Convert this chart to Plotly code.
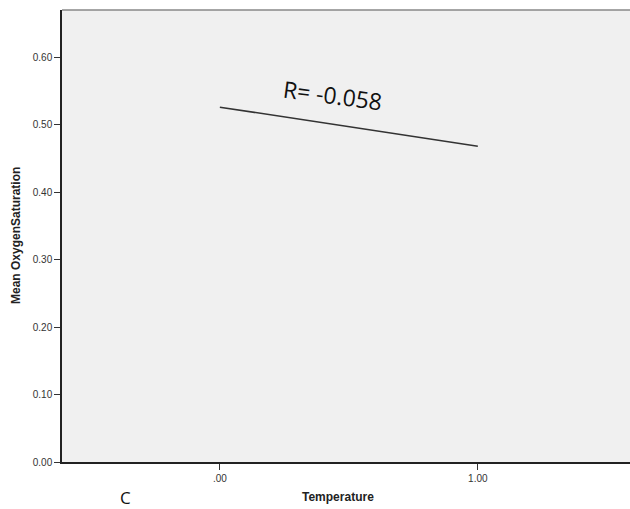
import plotly.graph_objects as go

temperature = [0.0, 1.0]
fit_oxygen = [0.526, 0.468]
x_tick_vals = [0.0, 1.0]
x_tick_text = [".00", "1.00"]
y_tick_vals = [0.0, 0.1, 0.2, 0.3, 0.4, 0.5, 0.6]
y_tick_text = ["0.00", "0.10", "0.20", "0.30", "0.40", "0.50", "0.60"]
r_label = "R= -0.058"
panel_label = "C"

fig = go.Figure()
fig.add_trace(go.Scatter(x=temperature, y=fit_oxygen, mode="lines",
                         line=dict(color="#333333", width=1.5), showlegend=False,
                         hoverinfo="skip"))

fig.update_layout(
    width=630, height=509,
    margin=dict(l=62, r=0, t=10, b=47),
    paper_bgcolor="white", plot_bgcolor="#F0F0F0",
    font=dict(family="Liberation Sans, Arial, sans-serif", color="#222222"),
    xaxis=dict(range=[-0.612, 1.59], tickvals=x_tick_vals, ticktext=x_tick_text,
               showgrid=False, zeroline=False, showline=True, linecolor="#222222",
               linewidth=1.5, ticks="outside", ticklen=6, tickcolor="#333333",
               tickfont=dict(size=10, color="#333333")),
    yaxis=dict(range=[0, 0.67], tickvals=y_tick_vals, ticktext=y_tick_text,
               showgrid=False, zeroline=False, showline=True, linecolor="#222222",
               linewidth=1.5, ticks="outside", ticklen=6, tickcolor="#333333",
               tickfont=dict(size=10, color="#333333")),
    shapes=[dict(type="line", xref="paper", yref="paper", x0=0, x1=1, y0=1, y1=1,
                 line=dict(color="#888888", width=1.5))],
    annotations=[
        dict(text="<b>Mean OxygenSaturation</b>", xref="paper", yref="paper",
             x=-(62 - 16) / 568, y=0.5, xanchor="center", yanchor="middle", textangle=-90,
             showarrow=False, font=dict(size=12, color="#222222")),
        dict(text="<b>Temperature</b>", xref="paper", yref="paper",
             x=(338 - 62) / 568, y=-(497 - 462) / 452, xanchor="center", yanchor="middle",
             showarrow=False, font=dict(size=12, color="#222222")),
        dict(text=panel_label, xref="paper", yref="paper",
             x=(125 - 62) / 568, y=-(497 - 462) / 452, xanchor="center", yanchor="middle",
             showarrow=False, font=dict(size=17, color="#111111", family="Open Sans, sans-serif")),
        dict(text=r_label, x=0.438, y=0.544, xref="x", yref="y", textangle=7.5,
             showarrow=False, font=dict(size=23, color="#111111", family="Open Sans, sans-serif")),
    ],
)

fig.write_html("out.html", config={"displayModeBar": False},
               post_script="document.body.style.margin='0';document.body.style.overflow='hidden';")
